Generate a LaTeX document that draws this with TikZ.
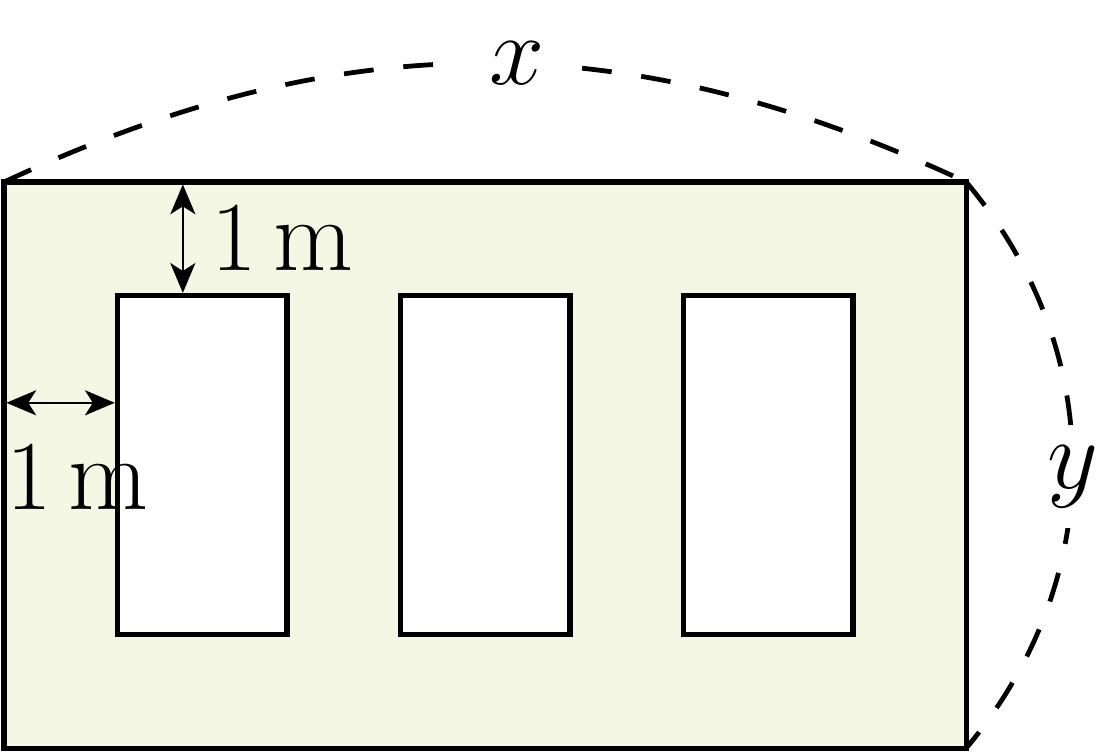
\documentclass[tikz,border=0pt]{standalone}
\usepackage{fontspec}
\usepackage[dvipsnames]{xcolor}
\usepackage{tikz}
\usetikzlibrary{arrows.meta}
\usetikzlibrary{positioning}
\definecolor{wallgreen}{RGB}{243,247,227}

\begin{document}
\begin{tikzpicture}[line join=miter,>={Stealth[length=7.5pt,width=6.3pt,inset=2pt]},x=1cm,y=1cm,
  every node/.style={font=\fontsize{26}{31}\selectfont},
  wall/.style={draw,line width=1.3pt,fill=wallgreen,minimum width=8.5cm,minimum height=5cm,inner sep=0pt,outer sep=0pt},
  pane/.style={draw,line width=1.3pt,fill=white,minimum width=1.5cm,minimum height=3cm,inner sep=0pt,outer sep=0pt},
  measure/.style={<->,line width=0.6pt,shorten <=0.6pt,shorten >=0.6pt},
  side/.style={line width=1.2pt,dash pattern=on 7.5pt off 7.5pt}]
\useasboundingbox (-0.035,-0.053) rectangle (9.708,6.608);
\node[wall] (wall) at (4.25,2.5) {};
\foreach \i/\x in {1/1.75,2/4.25,3/6.75}
\node[pane] (pane\i) at (\x,2.5) {};
\coordinate (vline) at (1.58,0);
\coordinate (hline) at (0,3.05);
\draw[measure] (wall.north -| vline) -- node[right,inner sep=7pt] (vlabel) {$1\,\mathrm{m}$} (pane1.north -| vline);
\draw[measure] (wall.west |- hline) coordinate (hstart) -- (pane1.west |- hline);
\node[below right=10.5pt and 0.4pt of hstart,inner sep=0pt] (hlabel) {$1\,\mathrm{m}$};
\draw[side] (wall.north west) to[bend left=25] node[pos=0.534,fill=white,inner sep=8pt] (xlabel) {$x$} (wall.north east);
\draw[side] (wall.north east) to[bend left=40] node[pos=0.52,fill=white,inner sep=5pt] (ylabel) {$y$} (wall.south east);
\end{tikzpicture}
\end{document}
